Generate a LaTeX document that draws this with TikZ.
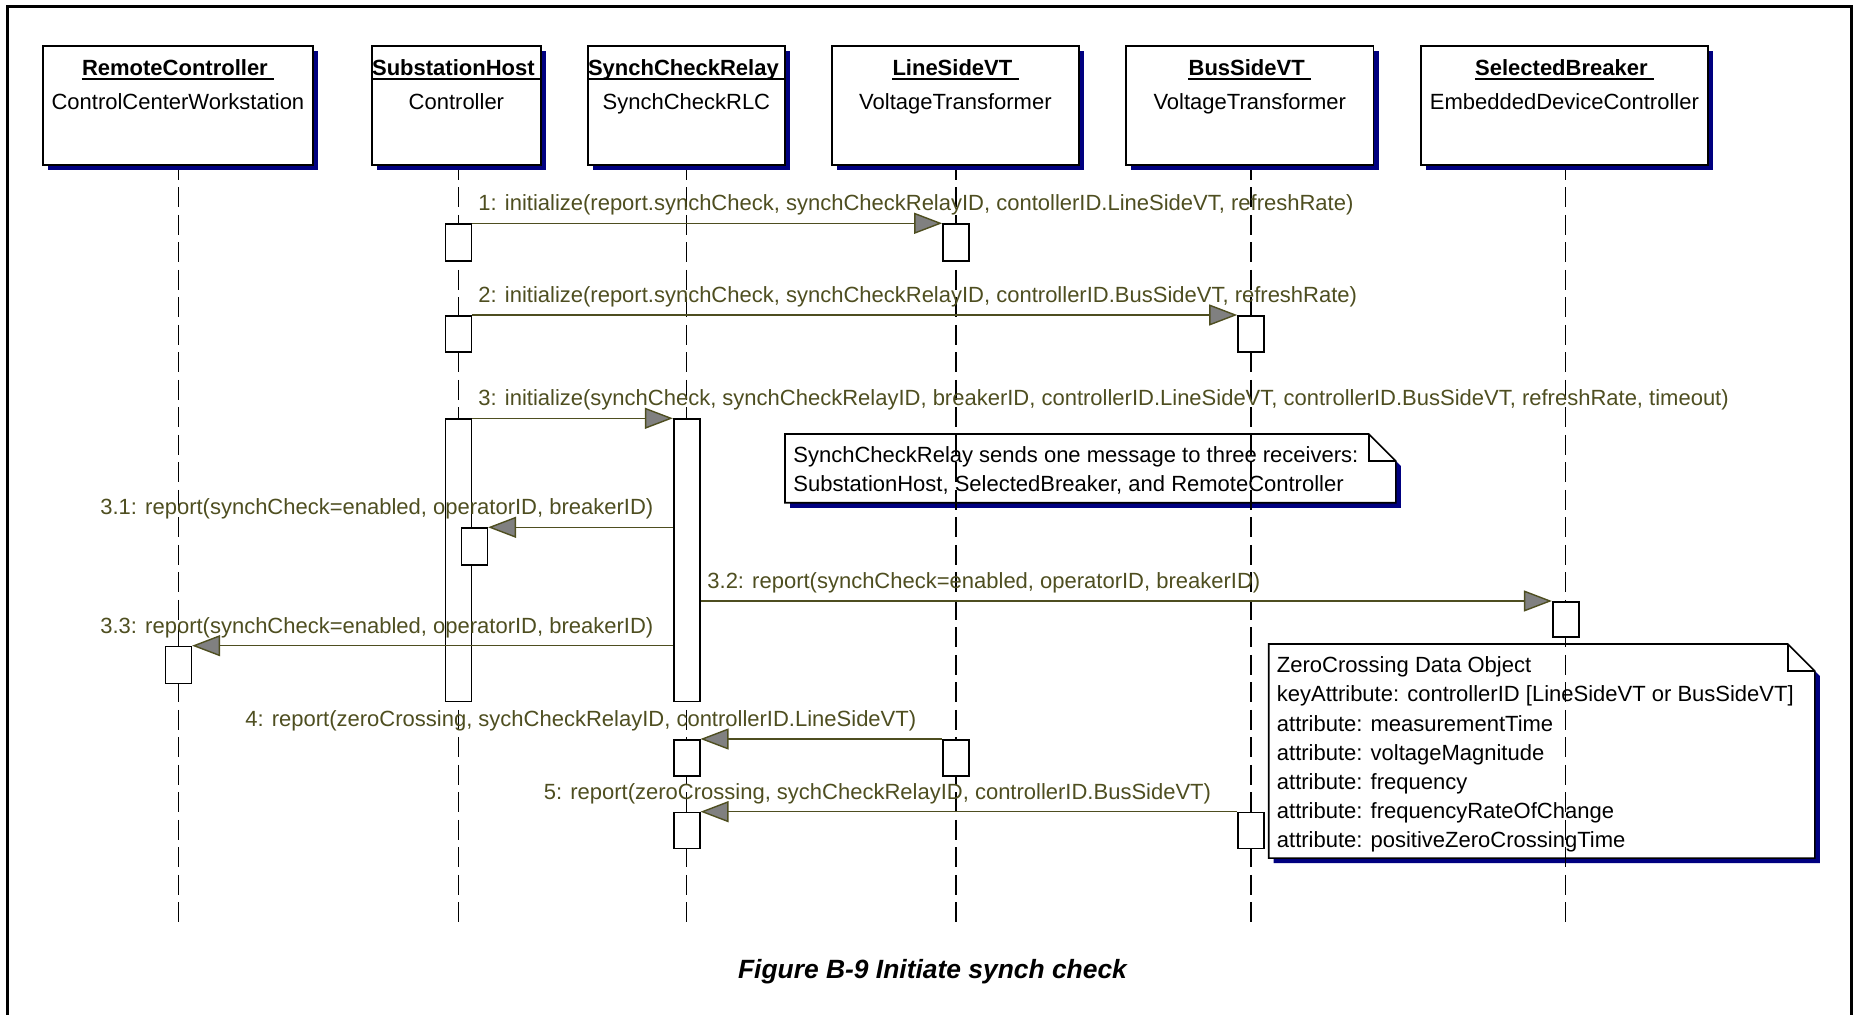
\documentclass[tikz,border=0pt]{standalone}
\usepackage{fontspec}
\setmainfont{Liberation Sans}
\usetikzlibrary{arrows.meta,shadows}

\definecolor{msgc}{RGB}{78,78,32}
\definecolor{navyshade}{RGB}{0,0,128}
\definecolor{tipfill}{RGB}{128,128,128}

% UML note with a folded corner and a drop shadow, drawn around the node #1
\newcommand\umlnoteframe[1]{%
  \fill[navyshade] ([shift={(5,5)}]#1.north west) -- ([shift={(-22,5)}]#1.north east)
     -- ([shift={(5,32)}]#1.north east) -- ([shift={(5,5)}]#1.south east)
     -- ([shift={(5,5)}]#1.south west) -- cycle;
  \filldraw[fill=white, draw=black, line width=0.8pt] (#1.north west)
     -- ([shift={(-27,0)}]#1.north east) -- ([shift={(0,27)}]#1.north east)
     -- (#1.south east) -- (#1.south west) -- cycle;
  \draw[line width=0.8pt] ([shift={(-27,0)}]#1.north east)
     -- ([shift={(-27,27)}]#1.north east) -- ([shift={(0,27)}]#1.north east);
}

\begin{document}
\begin{tikzpicture}[x=0.5pt, y=-0.5pt,
  font=\fontsize{11pt}{13pt}\selectfont,
  objbox/.style={draw=black, fill=white, line width=0.9pt, inner sep=0pt,
    anchor=north west, minimum height=59.5pt,
    drop shadow={shadow xshift=2.5pt, shadow yshift=-2.5pt, fill=navyshade, opacity=1}},
  objname/.style={font=\fontsize{11pt}{13pt}\selectfont\bfseries, inner sep=0pt, anchor=base},
  objsub/.style={inner sep=0pt, anchor=base},
  notebox/.style={inner sep=0pt, anchor=north west},
  notetext/.style={inner sep=0pt, anchor=base west},
  lifeline/.style={draw=black, line width=0.7pt, dash pattern=on 10pt off 3.75pt},
  act/.style={draw=black, fill=white, line width=0.8pt, inner sep=0pt,
    minimum width=13pt, anchor=north},
  msg/.style={draw=msgc, line width=0.7pt,
    -{Triangle[length=14pt, width=10.5pt, fill=tipfill]}},
  msgtext/.style={text=msgc, inner sep=0pt, anchor=base west},
  underl/.style={line width=0.8pt}
]
\useasboundingbox (0,0) rectangle (1860,1015);

% outer frame
\draw[line width=1.5pt] (7,1030) -- (7,7) -- (1851,7) -- (1851,1030);

% notes
\node[notebox, minimum width=305pt, minimum height=34pt] (n1) at (785,434) {};
\umlnoteframe{n1}
\node[notetext] (n1a) at (793,462.7) {SynchCheckRelay sends one message to three receivers:};
\node[notetext] (n1b) at (793,491.7) {SubstationHost, SelectedBreaker, and RemoteController};

\node[notebox, minimum width=272.65pt, minimum height=106.65pt] (n2) at (1268.7,644) {};
\umlnoteframe{n2}
\node[notetext] (n2a) at (1276.5,672.7) {ZeroCrossing Data Object};
\node[notetext] (n2b) at (1276.5,701.9) {keyAttribute: controllerID [LineSideVT or BusSideVT]};
\node[notetext] (n2c) at (1276.5,731.1) {attribute: measurementTime};
\node[notetext] (n2d) at (1276.5,760.3) {attribute: voltageMagnitude};
\node[notetext] (n2e) at (1276.5,789.5) {attribute: frequency};
\node[notetext] (n2f) at (1276.5,818.7) {attribute: frequencyRateOfChange};
\node[notetext] (n2g) at (1276.5,847.9) {attribute: positiveZeroCrossingTime};

% lifeline ends
\coordinate (rcX) at (178.3,921.7);
\coordinate (shX) at (458.3,921.7);
\coordinate (scX) at (686.7,921.7);
\coordinate (lvX) at (956,921.7);
\coordinate (bvX) at (1251,921.7);
\coordinate (sbX) at (1565.7,921.7);

% lifelines
\draw[lifeline] (rcX |- 0,160) -- (rcX);
\draw[lifeline] (shX |- 0,160) -- (shX);
\draw[lifeline] (scX |- 0,160) -- (scX);
\draw[lifeline] (lvX |- 0,160) -- (lvX);
\draw[lifeline] (bvX |- 0,160) -- (bvX);
\draw[lifeline] (sbX |- 0,160) -- (sbX);

% object boxes
\node[objbox, minimum width=135pt]   (rc) at (42,45) {};
\node[objbox, minimum width=84.5pt]  (sh) at (371,45) {};
\node[objbox, minimum width=98.5pt]  (sc) at (587,45) {};
\node[objbox, minimum width=123.5pt] (lv) at (831,45) {};
\node[objbox, minimum width=123.8pt] (bv) at (1125,45) {};
\node[objbox, minimum width=143.5pt] (sb) at (1420,45) {};

\node[objname] (rcN) at (rc.north |- 0,76) {RemoteController\kern3pt};
\node[objname] (shN) at (sh.north |- 0,76) {SubstationHost\kern3pt};
\node[objname] (scN) at (sc.north |- 0,76) {SynchCheckRelay\kern3pt};
\node[objname] (lvN) at (lv.north |- 0,76) {LineSideVT\kern3pt};
\node[objname] (bvN) at (bv.north |- 0,76) {BusSideVT\kern3pt};
\node[objname] (sbN) at (sb.north |- 0,76) {SelectedBreaker\kern3pt};
\foreach \n in {rcN,shN,scN,lvN,bvN,sbN}
  \draw[underl] ([yshift=-1.4pt]\n.base west) -- ([yshift=-1.4pt]\n.base east);

\node[objsub] (rcS) at (rc.north |- 0,109.3) {ControlCenterWorkstation};
\node[objsub] (shS) at (sh.north |- 0,109.3) {Controller};
\node[objsub] (scS) at (sc.north |- 0,109.3) {SynchCheckRLC};
\node[objsub] (lvS) at (lv.north |- 0,109.3) {VoltageTransformer};
\node[objsub] (bvS) at (bv.north |- 0,109.3) {VoltageTransformer};
\node[objsub] (sbS) at (sb.north |- 0,109.3) {EmbeddedDeviceController};

% activation bars
\node[act, minimum height=18.5pt]  (sh1)  at (shX |- 0,223.3) {};
\node[act, minimum height=18.5pt]  (lv1)  at (lvX |- 0,223.3) {};
\node[act, minimum height=18.25pt] (sh2)  at (shX |- 0,315) {};
\node[act, minimum height=18.25pt] (bv2)  at (bvX |- 0,315) {};
\node[act, minimum height=141.2pt] (sh3)  at (shX |- 0,418.3) {};
\node[act, minimum height=141.2pt] (sc3)  at (scX |- 0,418.3) {};
\node[act, minimum height=18.5pt]  (sh31) at (474.3,527.3) {};
\node[act, minimum height=17.5pt]  (sb32) at (sbX |- 0,601) {};
\node[act, minimum height=18.5pt]  (rc33) at (rcX |- 0,645.7) {};
\node[act, minimum height=18pt]    (sc4)  at (scX |- 0,739) {};
\node[act, minimum height=18pt]    (lv4)  at (lvX |- 0,739) {};
\node[act, minimum height=18pt]    (sc5)  at (scX |- 0,811.7) {};
\node[act, minimum height=18pt]    (bv5)  at (bvX |- 0,811.7) {};

% messages
\draw[msg] (sh1.north east) -- (lv1.north west);
\draw[msg] (sh2.north east) -- (bv2.north west);
\draw[msg] (sh3.north east) -- (sc3.north west);
\draw[msg] (sc3.west |- sh31.north) -- (sh31.north east);
\draw[msg] (sc3.east |- sb32.north) -- (sb32.north west);
\draw[msg] (sc3.west |- rc33.north) -- (rc33.north east);
\draw[msg] (lv4.north west) -- (sc4.north east);
\draw[msg] (bv5.north west) -- (sc5.north east);

\node[msgtext] (m1)  at (478,210.7) {1: initialize(report.synchCheck, synchCheckRelayID, contollerID.LineSideVT, refreshRate)};
\node[msgtext] (m2)  at (478,302.4) {2: initialize(report.synchCheck, synchCheckRelayID, controllerID.BusSideVT, refreshRate)};
\node[msgtext] (m3)  at (478,405.7) {3: initialize(synchCheck, synchCheckRelayID, breakerID, controllerID.LineSideVT, controllerID.BusSideVT, refreshRate, timeout)};
\node[msgtext] (m31) at (100,514.7) {3.1: report(synchCheck=enabled, operatorID, breakerID)};
\node[msgtext] (m32) at (707,588.4) {3.2: report(synchCheck=enabled, operatorID, breakerID)};
\node[msgtext] (m33) at (100,633.1) {3.3: report(synchCheck=enabled, operatorID, breakerID)};
\node[msgtext] (m4)  at (245,726.4) {4: report(zeroCrossing, sychCheckRelayID, controllerID.LineSideVT)};
\node[msgtext] (m5)  at (543.5,799.1) {5: report(zeroCrossing, sychCheckRelayID, controllerID.BusSideVT)};

% caption
\node[font=\fontsize{13.2pt}{15pt}\selectfont\bfseries\itshape, inner sep=0pt, anchor=base]
  (cap) at (932.5,978.4) {Figure B-9 Initiate synch check};
\end{tikzpicture}
\end{document}
